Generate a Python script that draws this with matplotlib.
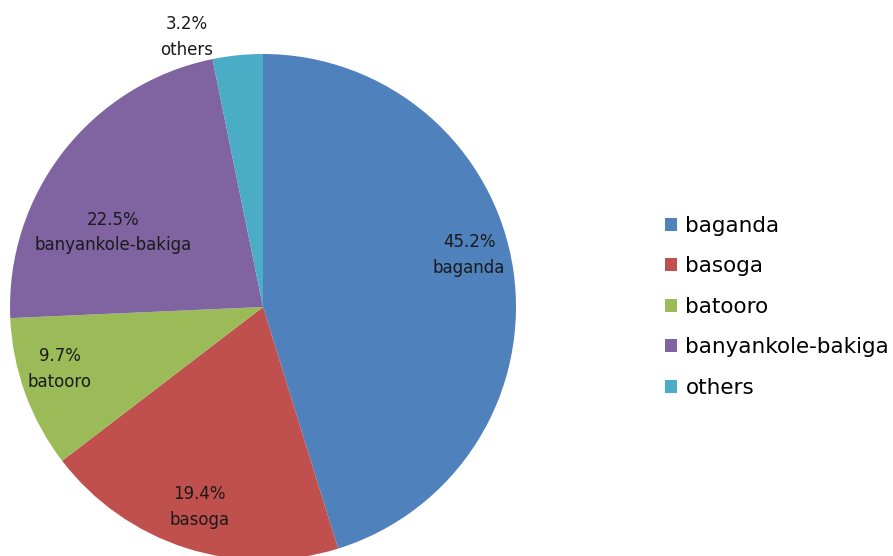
import numpy as np
import matplotlib.pyplot as plt
from matplotlib.patches import Patch

groups = ['baganda', 'basoga', 'batooro', 'banyankole-bakiga', 'others']
shares = [45.2, 19.4, 9.7, 22.5, 3.2]
colors = ['#4F81BD', '#C0504D', '#9BBB59', '#8064A2', '#4BACC6']

# where each data label sits: radius (pie units) and angle nudge (degrees)
label_r = [0.84, 0.83, 0.84, 0.66, 1.11]
label_nudge = [5.5, 0, -3, 11.5, 10]

fig = plt.figure(figsize=(8.93, 5.56), dpi=100)
ax = fig.add_axes([10 / 893, -4 / 556, 506 / 893, 506 / 556])

wedges, _ = ax.pie(shares, colors=colors, startangle=90, counterclock=False,
                   radius=1, wedgeprops=dict(linewidth=0))
ax.set_xlim(-1, 1)
ax.set_ylim(-1, 1)
ax.set_aspect('equal')
ax.axis('off')

for w, g, v, r, d in zip(wedges, groups, shares, label_r, label_nudge):
    mid = np.deg2rad((w.theta1 + w.theta2) / 2 + d)
    ax.text(r * np.cos(mid), r * np.sin(mid), f'{v:.1f}%\n{g}',
            ha='center', va='center', fontsize=12, color='#1a1a1a',
            linespacing=1.55, clip_on=False)

handles = [Patch(facecolor=c, edgecolor='none') for c in colors]
fig.legend(handles, groups, loc='center left', bbox_to_anchor=(0.723, 0.448),
           frameon=False, fontsize=15.5, handlelength=0.55, handleheight=0.55,
           handletextpad=0.4, labelspacing=0.95)

fig.savefig('out.png', dpi=100)
